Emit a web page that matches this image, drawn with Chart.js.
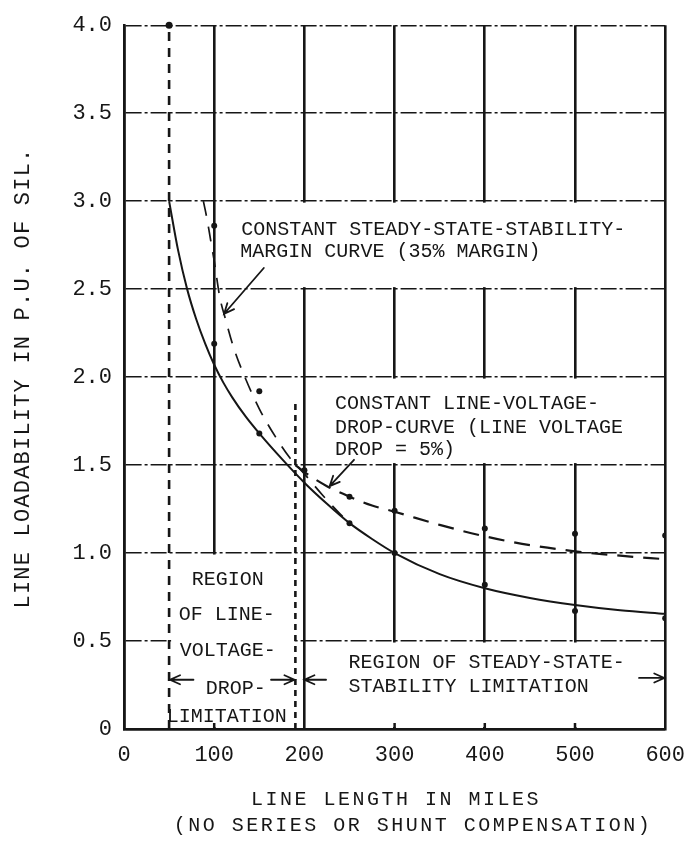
<!DOCTYPE html>
<html>
<head>
<meta charset="utf-8">
<script src="https://cdn.jsdelivr.net/npm/chart.js@4.4.1/dist/chart.umd.min.js"></script>
<style>
  html, body { margin: 0; padding: 0; background: #fff; }
  canvas { display: block; }
</style>
</head>
<body>
<canvas id="c" width="698" height="848"></canvas>
<script>
// ---- axis tick labels ----
const xTickLabels = ['0', '100', '200', '300', '400', '500', '600'];
const yTickLabels = ['0', '0.5', '1.0', '1.5', '2.0', '2.5', '3.0', '3.5', '4.0'];

// ---- steady-state-stability limit (solid curve) ----
const stabilityMiles = [50, 60, 70, 80, 90, 100, 110, 120, 135, 150, 175, 200, 225, 250, 275, 300, 350, 400, 450, 500, 550, 600];
const stabilityLoad  = [3.00, 2.72, 2.50, 2.33, 2.19, 2.07, 1.97, 1.885, 1.775, 1.68, 1.535, 1.40, 1.28, 1.17, 1.08, 1.00, 0.88, 0.80, 0.745, 0.705, 0.675, 0.655];

// ---- constant steady-state-stability-margin curve (35% margin) ----
const marginMiles = [88, 92, 96, 100, 106, 113, 122, 134, 150, 168, 184, 200, 220, 240, 250];
const marginLoad  = [3.00, 2.90, 2.78, 2.66, 2.46, 2.32, 2.16, 2.00, 1.82, 1.66, 1.54, 1.45, 1.33, 1.22, 1.17];

// ---- constant line-voltage-drop curve (5% drop) ----
const dropMiles = [190, 200, 225, 250, 275, 300, 350, 400, 450, 500, 550, 600];
const dropLoad  = [1.50, 1.46, 1.38, 1.32, 1.27, 1.235, 1.16, 1.095, 1.045, 1.01, 0.985, 0.965];

// ---- calculated points ----
const pointMiles = [100, 100, 150, 150, 200, 250, 250, 300, 300, 400, 400, 500, 500, 600, 600];
const pointLoad  = [2.86, 2.19, 1.92, 1.68, 1.47, 1.32, 1.17, 1.24, 1.00, 1.14, 0.82, 1.11, 0.67, 1.10, 0.63];

// ---- region boundaries ----
const dropLimitMiles = [50, 50];
const dropLimitLoad  = [0, 4.0];
const stabilityLimitMiles = [190, 190];
const stabilityLimitLoad  = [0, 1.87];

// ---- drawing styles ----
const INK = '#161616';
const MONO = '"Liberation Mono", "Courier New", monospace';

const toPoints = (xs, ys) => xs.map((v, i) => ({ x: v, y: ys[i] }));

// white label panels that interrupt the grid
const panels = [
  { x0: 100, x1: 600, y0: 2.5, y1: 3.0 },
  { x0: 200, x1: 600, y0: 1.5, y1: 2.0 },
  { x0: 200, x1: 600, y0: 0.0, y1: 0.5 },
  { x0: 50,  x1: 190, y0: 0.0, y1: 1.0 }
];

// annotation text, placed in data units
const notes = [
  { text: 'CONSTANT STEADY-STATE-STABILITY-', x: 130, y: 2.84, align: 'left' },
  { text: 'MARGIN CURVE (35% MARGIN)',        x: 129, y: 2.71, align: 'left' },
  { text: 'CONSTANT LINE-VOLTAGE-',           x: 234, y: 1.85, align: 'left' },
  { text: 'DROP-CURVE (LINE VOLTAGE',         x: 234, y: 1.715, align: 'left' },
  { text: 'DROP = 5%)',                       x: 234, y: 1.585, align: 'left' },
  { text: 'REGION OF STEADY-STATE-',          x: 249, y: 0.375, align: 'left' },
  { text: 'STABILITY LIMITATION',             x: 249, y: 0.24, align: 'left' },
  { text: 'REGION',      x: 115, y: 0.85, align: 'center' },
  { text: 'OF LINE-',    x: 114, y: 0.65, align: 'center' },
  { text: 'VOLTAGE-',    x: 115, y: 0.445, align: 'center' },
  { text: 'DROP-',       x: 124, y: 0.23, align: 'center' },
  { text: 'LIMITATION',  x: 114, y: 0.07, align: 'center' }
];

// pointer arrows (tail -> head) in data units
const arrows = [
  { from: [155, 2.62], to: [111, 2.36] },
  { from: [255, 1.53], to: [228, 1.38] },
  { from: [77, 0.28],  to: [51, 0.28] },
  { from: [163, 0.28], to: [189, 0.28] },
  { from: [224, 0.28], to: [200, 0.28] },
  { from: [571, 0.29], to: [599, 0.29] }
];

const panelPlugin = {
  id: 'panels',
  beforeDatasetsDraw(chart) {
    const { ctx, scales: { x, y } } = chart;
    ctx.save();
    ctx.fillStyle = '#fff';
    panels.forEach(p => {
      const l = x.getPixelForValue(p.x0) + 2;
      const r = x.getPixelForValue(p.x1) - 2;
      const t = y.getPixelForValue(p.y1) + 1.5;
      const b = y.getPixelForValue(p.y0) - 2;
      ctx.fillRect(l, t, r - l, b - t);
    });
    // short stubs left at the foot of the interrupted grid lines
    ctx.strokeStyle = INK;
    ctx.lineWidth = 2.5;
    [100, 300, 400, 500].forEach(v => {
      const px = x.getPixelForValue(v);
      ctx.beginPath();
      ctx.moveTo(px, y.bottom);
      ctx.lineTo(px, y.bottom - 6);
      ctx.stroke();
    });
    ctx.restore();
  }
};

const notePlugin = {
  id: 'notes',
  afterDatasetsDraw(chart) {
    const { ctx, scales: { x, y } } = chart;
    ctx.save();
    ctx.fillStyle = INK;
    ctx.font = '20px ' + MONO;
    ctx.textBaseline = 'middle';
    notes.forEach(n => {
      ctx.textAlign = n.align;
      ctx.fillText(n.text, x.getPixelForValue(n.x), y.getPixelForValue(n.y));
    });

    ctx.strokeStyle = INK;
    ctx.lineWidth = 1.8;
    ctx.lineCap = 'round';
    arrows.forEach(a => {
      const x1 = x.getPixelForValue(a.from[0]), y1 = y.getPixelForValue(a.from[1]);
      const x2 = x.getPixelForValue(a.to[0]),   y2 = y.getPixelForValue(a.to[1]);
      const ang = Math.atan2(y2 - y1, x2 - x1);
      const head = 11, spread = 0.42;
      ctx.beginPath();
      ctx.moveTo(x1, y1);
      ctx.lineTo(x2, y2);
      ctx.moveTo(x2 - head * Math.cos(ang - spread), y2 - head * Math.sin(ang - spread));
      ctx.lineTo(x2, y2);
      ctx.lineTo(x2 - head * Math.cos(ang + spread), y2 - head * Math.sin(ang + spread));
      ctx.stroke();
    });
    ctx.restore();
  },
  afterDraw(chart) {
    const { ctx } = chart;
    ctx.save();
    ctx.fillStyle = INK;
    ctx.textAlign = 'center';
    ctx.textBaseline = 'middle';

    ctx.font = '22px ' + MONO;
    ctx.letterSpacing = '1.2px';
    ctx.translate(23, 378);
    ctx.rotate(-Math.PI / 2);
    ctx.fillText('LINE LOADABILITY IN P.U. OF SIL.', 0, 0);
    ctx.setTransform(1, 0, 0, 1, 0, 0);

    ctx.font = '20px ' + MONO;
    ctx.letterSpacing = '2.5px';
    ctx.fillText('LINE LENGTH IN MILES', 396, 800);
    ctx.fillText('(NO SERIES OR SHUNT COMPENSATION)', 413, 826);
    ctx.restore();
  }
};

new Chart(document.getElementById('c'), {
  type: 'scatter',
  data: {
    datasets: [
      {
        data: toPoints(stabilityMiles, stabilityLoad),
        showLine: true, borderColor: INK, borderWidth: 2,
        pointRadius: 0, cubicInterpolationMode: 'monotone'
      },
      {
        data: toPoints(marginMiles, marginLoad),
        showLine: true, borderColor: INK, borderWidth: 1.7, borderDash: [15, 11],
        pointRadius: 0, cubicInterpolationMode: 'monotone'
      },
      {
        data: toPoints(dropMiles, dropLoad),
        showLine: true, borderColor: INK, borderWidth: 2.2, borderDash: [16, 10],
        pointRadius: 0, cubicInterpolationMode: 'monotone'
      },
      {
        data: toPoints(pointMiles, pointLoad),
        showLine: false, pointRadius: 3, pointBackgroundColor: INK, pointBorderWidth: 0
      },
      {
        data: toPoints(dropLimitMiles, dropLimitLoad),
        showLine: true, borderColor: INK, borderWidth: 2.6, borderDash: [9, 7],
        pointRadius: c => (c.dataIndex === 1 ? 3.5 : 0),
        pointBackgroundColor: INK, pointBorderWidth: 0, clip: false
      },
      {
        data: toPoints(stabilityLimitMiles, stabilityLimitLoad),
        showLine: true, borderColor: INK, borderWidth: 2.6, borderDash: [6, 5],
        pointRadius: 0
      }
    ]
  },
  options: {
    responsive: false,
    animation: false,
    events: [],
    layout: { autoPadding: false, padding: { top: 14, right: 27, left: 0, bottom: 0 } },
    plugins: { legend: { display: false }, tooltip: { enabled: false } },
    scales: {
      x: {
        type: 'linear', min: 0, max: 600,
        afterFit: s => { s.height = 119; },
        ticks: {
          stepSize: 100, padding: 13, color: INK,
          font: { family: MONO, size: 22 },
          callback: (v) => xTickLabels[Math.round(v / 100)]
        },
        grid: { color: INK, lineWidth: 2.6, drawTicks: false },
        border: { display: true, color: INK, width: 2.4 }
      },
      y: {
        type: 'linear', min: 0, max: 4,
        afterFit: s => { s.width = 124; },
        ticks: {
          stepSize: 0.5, padding: 12, color: INK,
          font: { family: MONO, size: 22 },
          callback: (v) => yTickLabels[Math.round(v * 2)]
        },
        grid: {
          color: INK, drawTicks: false,
          lineWidth: c => (c.tick && c.tick.value === 0 ? 2.4 : 1.4)
        },
        border: {
          display: true, color: INK, width: 2.6,
          dash: c => (c.tick && c.tick.value > 0 ? [16, 3, 3, 3] : [])
        }
      }
    }
  },
  plugins: [panelPlugin, notePlugin]
});
</script>
</body>
</html>
